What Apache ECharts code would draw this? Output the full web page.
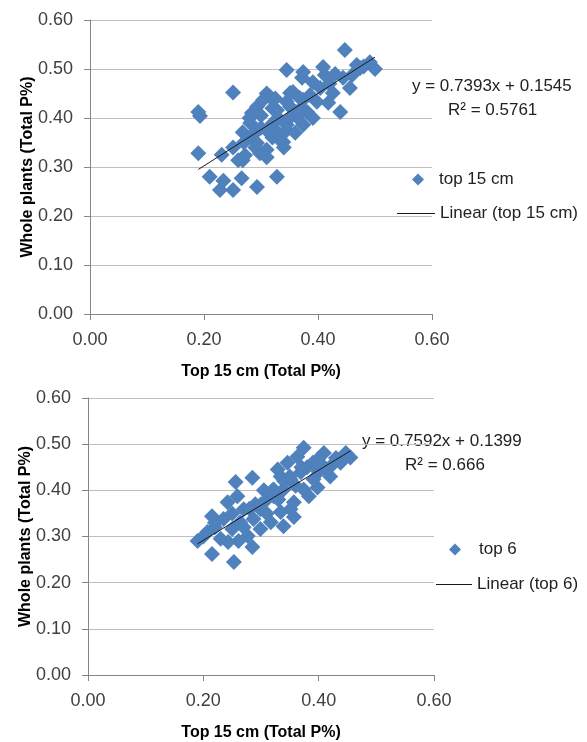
<!DOCTYPE html>
<html>
<head>
<meta charset="utf-8">
<script src="https://cdn.jsdelivr.net/npm/echarts@6/dist/echarts.min.js"></script>
<style>
html,body{margin:0;padding:0;background:#fff;}
#chart{width:587px;height:742px;}
</style>
</head>
<body>
<div id="chart"></div>
<script>
// ---- Data ----
var xTicks = [0.00, 0.20, 0.40, 0.60];
var yTicks = [0.00, 0.10, 0.20, 0.30, 0.40, 0.50, 0.60];

var topName = 'top 15 cm';
var topTrendName = 'Linear (top 15 cm)';
var topX = [0.190,0.193,0.190,0.251,0.210,0.228,0.234,0.251,0.266,0.293,0.328,0.231,0.251,0.260,0.268,0.272,0.268,0.281,0.293,0.304,0.316,0.293,0.310,0.298,0.333,0.345,0.351,0.363,0.321,0.281,0.310,0.351,0.374,0.328,0.284,0.447,0.345,0.374,0.372,0.409,0.412,0.468,0.491,0.500,0.460,0.444,0.456,0.439,0.418,0.426,0.391,0.404,0.356,0.345,0.368,0.386,0.398,0.381,0.363,0.391,0.374,0.345,0.339,0.480,0.474,0.300,0.320,0.330,0.290,0.360,0.310,0.325,0.340,0.420,0.430,0.280,0.300,0.320,0.330,0.350,0.370,0.290,0.310,0.270];
var topY = [0.412,0.404,0.328,0.452,0.280,0.253,0.272,0.253,0.277,0.259,0.280,0.325,0.340,0.314,0.314,0.324,0.371,0.390,0.423,0.437,0.443,0.349,0.335,0.328,0.355,0.375,0.423,0.402,0.390,0.361,0.375,0.451,0.437,0.416,0.410,0.539,0.498,0.494,0.482,0.504,0.488,0.508,0.514,0.500,0.488,0.482,0.461,0.412,0.431,0.451,0.473,0.461,0.453,0.433,0.441,0.447,0.433,0.412,0.406,0.400,0.386,0.386,0.351,0.505,0.502,0.405,0.360,0.400,0.370,0.370,0.450,0.440,0.340,0.470,0.490,0.400,0.380,0.420,0.370,0.400,0.420,0.340,0.320,0.350];
var topFit = [0.7393, 0.1545]; // slope, intercept
var topEq = ['y = 0.7393x + 0.1545', 'R\u00b2 = 0.5761'];

var botName = 'top 6';
var botTrendName = 'Linear (top 6)';
var botX = [0.190,0.215,0.253,0.285,0.256,0.285,0.339,0.357,0.207,0.215,0.242,0.259,0.235,0.250,0.264,0.230,0.243,0.277,0.287,0.299,0.270,0.311,0.322,0.334,0.351,0.317,0.299,0.261,0.374,0.409,0.447,0.455,0.438,0.398,0.363,0.346,0.329,0.391,0.421,0.398,0.351,0.369,0.374,0.322,0.339,0.357,0.334,0.383,0.220,0.200,0.305,0.290,0.270,0.310,0.330,0.360,0.400,0.420,0.380,0.340,0.220,0.250,0.280,0.300,0.320,0.350,0.370,0.390,0.410,0.430];
var botY = [0.290,0.262,0.245,0.277,0.418,0.427,0.322,0.342,0.310,0.344,0.374,0.387,0.338,0.316,0.331,0.295,0.288,0.301,0.338,0.359,0.359,0.381,0.402,0.430,0.359,0.331,0.316,0.290,0.492,0.481,0.481,0.471,0.460,0.467,0.473,0.460,0.445,0.424,0.452,0.406,0.424,0.439,0.402,0.387,0.402,0.374,0.353,0.387,0.320,0.300,0.400,0.370,0.320,0.350,0.380,0.410,0.440,0.430,0.450,0.420,0.330,0.350,0.360,0.370,0.400,0.430,0.450,0.460,0.450,0.470];
var botFit = [0.7592, 0.1399];
var botEq = ['y = 0.7592x + 0.1399', 'R\u00b2 = 0.666'];

var xTitle = 'Top 15 cm (Total P%)';
var yTitle = 'Whole plants (Total P%)';

// ---- Build ----
function pairs(xs, ys){ return xs.map(function(x,i){ return [x, ys[i]]; }); }
function trend(xs, fit){
  var mn = Math.min.apply(null, xs), mx = Math.max.apply(null, xs);
  return [[mn, fit[0]*mn + fit[1]], [mx, fit[0]*mx + fit[1]]];
}
var FONT = 'Liberation Sans, Arial, sans-serif';
var LBL = '#404040';
var BLUE = '#4F81BD';
var TREND = '#1a1a1a';

function xAxisCfg(gi){
  return {
    gridIndex: gi, type: 'value', min: xTicks[0], max: xTicks[xTicks.length-1], interval: 0.2,
    name: xTitle, nameLocation: 'middle', nameGap: 50, nameMoveOverlap: false,
    nameTextStyle: {fontFamily: FONT, fontWeight: 'bold', fontSize: 16, color: '#000'},
    axisLine: {show: true, lineStyle: {color: '#868686', width: 1}},
    axisTick: {show: true, length: 6, lineStyle: {color: '#868686'}},
    axisLabel: {margin: 17, fontFamily: FONT, fontSize: 18, color: LBL, formatter: function(v){ return v.toFixed(2); }},
    splitLine: {show: false}
  };
}
function yAxisCfg(gi){
  return {
    gridIndex: gi, type: 'value', min: yTicks[0], max: yTicks[yTicks.length-1], interval: 0.1,
    name: yTitle, nameLocation: 'middle', nameGap: 54, nameRotate: 90, nameMoveOverlap: false,
    nameTextStyle: {fontFamily: FONT, fontWeight: 'bold', fontSize: 16, color: '#000'},
    axisLine: {show: true, lineStyle: {color: '#868686', width: 1}},
    axisTick: {show: true, length: 6, lineStyle: {color: '#868686'}},
    axisLabel: {margin: 17, fontFamily: FONT, fontSize: 18, color: LBL, formatter: function(v){ return v.toFixed(2); }},
    splitLine: {show: true, lineStyle: {color: '#BFBFBF', width: 1}}
  };
}
function legendCfg(item, left, top, w, h, pad){
  return {
    data: [item], left: left, top: top, orient: 'vertical', itemWidth: w, itemHeight: h,
    padding: 0, selectedMode: false,
    textStyle: {fontFamily: FONT, fontSize: 17, color: '#222', padding: [0,0,0,pad]}
  };
}

var option = {
  animation: false,
  backgroundColor: '#fff',
  grid: [
    {left: 90, top: 20, width: 342, height: 294},
    {left: 88, top: 398, width: 346, height: 279}
  ],
  xAxis: [xAxisCfg(0), xAxisCfg(1)],
  yAxis: [yAxisCfg(0), yAxisCfg(1)],
  legend: [
    legendCfg(topName, 412, 171, 12, 12, 10),
    legendCfg({name: topTrendName, icon: 'rect', itemStyle: {color: TREND}}, 397, 205, 38, 1, 0),
    legendCfg(botName, 449, 541, 12, 12, 13),
    legendCfg({name: botTrendName, icon: 'rect', itemStyle: {color: TREND}}, 436, 576, 36, 1, 0)
  ],
  series: [
    {name: topName, type: 'scatter', xAxisIndex: 0, yAxisIndex: 0, symbol: 'diamond', symbolSize: 16,
     itemStyle: {color: BLUE, opacity: 1}, data: pairs(topX, topY), z: 2},
    {name: topTrendName, type: 'line', xAxisIndex: 0, yAxisIndex: 0, symbol: 'none', showSymbol: false,
     lineStyle: {color: TREND, width: 1}, itemStyle: {color: TREND}, data: trend(topX, topFit), z: 3},
    {name: botName, type: 'scatter', xAxisIndex: 1, yAxisIndex: 1, symbol: 'diamond', symbolSize: 16,
     itemStyle: {color: BLUE, opacity: 1}, data: pairs(botX, botY), z: 2},
    {name: botTrendName, type: 'line', xAxisIndex: 1, yAxisIndex: 1, symbol: 'none', showSymbol: false,
     lineStyle: {color: TREND, width: 1}, itemStyle: {color: TREND}, data: trend(botX, botFit), z: 3}
  ],
  graphic: [
    {type: 'text', left: 412, top: 78, style: {text: topEq[0], fontFamily: FONT, fontSize: 17, fill: '#222'}},
    {type: 'text', left: 448, top: 102, style: {text: topEq[1], fontFamily: FONT, fontSize: 17, fill: '#222'}},
    {type: 'text', left: 362, top: 433, style: {text: botEq[0], fontFamily: FONT, fontSize: 17, fill: '#222'}},
    {type: 'text', left: 405, top: 457, style: {text: botEq[1], fontFamily: FONT, fontSize: 17, fill: '#222'}}
  ]
};
var chart = echarts.init(document.getElementById('chart'), null, {renderer: 'canvas'});
chart.setOption(option);
</script>
</body>
</html>
